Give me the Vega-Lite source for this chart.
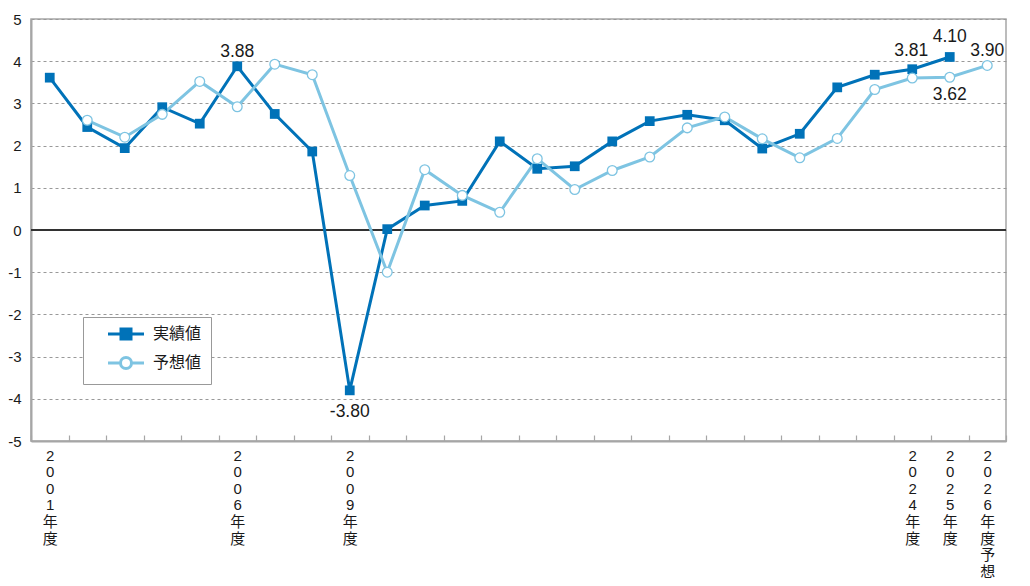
{
  "$schema": "https://vega.github.io/schema/vega-lite/v6.json",
  "autosize": "none",
  "width": 975,
  "height": 422,
  "padding": {"left": 31, "top": 19, "right": 24, "bottom": 145},
  "background": "#ffffff",
  "config": {
    "font": "Liberation Sans, Noto Sans CJK JP",
    "view": {"stroke": "#a6a6a6", "strokeWidth": 1.5},
    "axis": {"labelFont": "Liberation Sans, Noto Sans CJK JP", "labelColor": "#1a1a1a", "domainColor": "#a6a6a6", "domainWidth": 2, "tickColor": "#a6a6a6", "tickWidth": 1.2}
  },
  "data": {
    "values": [
      {"year": "2001", "series": "実績値", "value": 3.61},
      {"year": "2002", "series": "実績値", "value": 2.44},
      {"year": "2003", "series": "実績値", "value": 1.94},
      {"year": "2004", "series": "実績値", "value": 2.91},
      {"year": "2005", "series": "実績値", "value": 2.52},
      {"year": "2006", "series": "実績値", "value": 3.88, "label": "3.88"},
      {"year": "2007", "series": "実績値", "value": 2.75},
      {"year": "2008", "series": "実績値", "value": 1.86},
      {"year": "2009", "series": "実績値", "value": -3.8, "label": "-3.80"},
      {"year": "2010", "series": "実績値", "value": 0.02},
      {"year": "2011", "series": "実績値", "value": 0.58},
      {"year": "2012", "series": "実績値", "value": 0.69},
      {"year": "2013", "series": "実績値", "value": 2.1},
      {"year": "2014", "series": "実績値", "value": 1.45},
      {"year": "2015", "series": "実績値", "value": 1.51},
      {"year": "2016", "series": "実績値", "value": 2.1},
      {"year": "2017", "series": "実績値", "value": 2.58},
      {"year": "2018", "series": "実績値", "value": 2.73},
      {"year": "2019", "series": "実績値", "value": 2.6},
      {"year": "2020", "series": "実績値", "value": 1.93},
      {"year": "2021", "series": "実績値", "value": 2.28},
      {"year": "2022", "series": "実績値", "value": 3.38},
      {"year": "2023", "series": "実績値", "value": 3.68},
      {"year": "2024", "series": "実績値", "value": 3.81, "label": "3.81"},
      {"year": "2025", "series": "実績値", "value": 4.1, "label": "4.10"},
      {"year": "2002", "series": "予想値", "value": 2.6},
      {"year": "2003", "series": "予想値", "value": 2.2},
      {"year": "2004", "series": "予想値", "value": 2.74},
      {"year": "2005", "series": "予想値", "value": 3.52},
      {"year": "2006", "series": "予想値", "value": 2.92},
      {"year": "2007", "series": "予想値", "value": 3.93},
      {"year": "2008", "series": "予想値", "value": 3.68},
      {"year": "2009", "series": "予想値", "value": 1.29},
      {"year": "2010", "series": "予想値", "value": -1.0},
      {"year": "2011", "series": "予想値", "value": 1.43},
      {"year": "2012", "series": "予想値", "value": 0.82},
      {"year": "2013", "series": "予想値", "value": 0.42},
      {"year": "2014", "series": "予想値", "value": 1.69},
      {"year": "2015", "series": "予想値", "value": 0.96},
      {"year": "2016", "series": "予想値", "value": 1.41},
      {"year": "2017", "series": "予想値", "value": 1.73},
      {"year": "2018", "series": "予想値", "value": 2.42},
      {"year": "2019", "series": "予想値", "value": 2.68},
      {"year": "2020", "series": "予想値", "value": 2.16},
      {"year": "2021", "series": "予想値", "value": 1.71},
      {"year": "2022", "series": "予想値", "value": 2.17},
      {"year": "2023", "series": "予想値", "value": 3.33},
      {"year": "2024", "series": "予想値", "value": 3.6},
      {"year": "2025", "series": "予想値", "value": 3.62, "label": "3.62"},
      {"year": "2026", "series": "予想値", "value": 3.9, "label": "3.90"}
    ]
  },
  "encoding": {
    "x": {
      "field": "year", "type": "ordinal", "sort": "ascending",
      "scale": {"type": "band", "paddingInner": 0, "paddingOuter": 0},
      "axis": {
        "title": null, "grid": false, "labelAngle": 0, "labelAlign": "center", "labelBaseline": "top",
        "labelFontSize": 15, "labelLineHeight": 16.6, "tickBand": "extent", "tickSize": -6, "labelPadding": 13,
        "labelOverlap": false,
        "labelExpr": "indexof(['2001','2006','2009','2024','2025'], datum.value) >= 0 ? split(datum.value + '年度', '') : (datum.value == '2026' ? split('2026年度予想', '') : '')"
      }
    },
    "y": {
      "field": "value", "type": "quantitative",
      "scale": {"domain": [-5, 5], "nice": false},
      "axis": {
        "title": null, "values": [-5, -4, -3, -2, -1, 0, 1, 2, 3, 4, 5], "ticks": false,
        "labelFontSize": 15, "labelPadding": 10,
        "labelExpr": "datum.value < 0 ? '-' + abs(datum.value) : '' + datum.value",
        "grid": true, "gridColor": "#999999", "gridDash": [3, 3], "gridWidth": 1
      }
    }
  },
  "layer": [
    {
      "mark": {"type": "rule", "color": "#333333", "strokeWidth": 1.2},
      "encoding": {"y": {"datum": 0}, "x": {"value": 0}, "x2": {"value": 975}}
    },
    {
      "mark": {"type": "line", "strokeWidth": 3},
      "encoding": {
        "color": {
          "field": "series", "type": "nominal",
          "scale": {"domain": ["実績値", "予想値"], "range": ["#0072b8", "#7ec4e2"]},
          "legend": {
            "title": null, "orient": "none", "legendX": 52, "legendY": 298,
            "padding": 9, "rowPadding": 6, "strokeColor": "#999999", "fillColor": "#ffffff",
            "labelFontSize": 16, "labelFont": "Liberation Sans, Noto Sans CJK JP", "labelColor": "#1a1a1a",
            "symbolSize": 100, "symbolOffset": 26, "labelOffset": 19,
            "symbolType": "M-3.6,0H3.6",
            "encode": {
              "symbols": {
                "update": {
                  "shape": {"signal": "datum.value === '予想値' ? 'M-3.6,0H-1.1M1.1,0H3.6M1.1,0A1.1,1.1,0,1,1,-1.1,0A1.1,1.1,0,1,1,1.1,0Z' : 'M-3.6,0H3.6M-1,-1H1V1H-1Z'"},
                  "fill": {"signal": "datum.value === '予想値' ? '#ffffff' : '#0072b8'"},
                  "stroke": {"signal": "datum.value === '予想値' ? '#7ec4e2' : '#0072b8'"},
                  "strokeWidth": {"value": 3},
                  "opacity": {"value": 1},
                  "fillOpacity": {"value": 1},
                  "strokeOpacity": {"value": 1}
                }
              }
            }
          }
        }
      }
    },
    {
      "transform": [{"filter": "datum.series == '実績値'"}],
      "mark": {"type": "point", "shape": "square", "filled": true, "size": 95, "color": "#0072b8", "opacity": 1}
    },
    {
      "transform": [{"filter": "datum.series == '予想値'"}],
      "mark": {"type": "point", "shape": "circle", "filled": false, "size": 95, "fill": "#ffffff", "fillOpacity": 1, "stroke": "#7ec4e2", "strokeWidth": 1.3, "opacity": 1}
    },
    {
      "transform": [{"filter": "datum.label == '3.88' || datum.label == '3.90'"}],
      "mark": {"type": "text", "fontSize": 17.5, "color": "#1a1a1a", "baseline": "alphabetic", "dy": -9},
      "encoding": {"text": {"field": "label"}}
    },
    {
      "transform": [{"filter": "datum.label == '3.81'"}],
      "mark": {"type": "text", "fontSize": 17.5, "color": "#1a1a1a", "baseline": "alphabetic", "dy": -13, "dx": -1},
      "encoding": {"text": {"field": "label"}}
    },
    {
      "transform": [{"filter": "datum.label == '4.10'"}],
      "mark": {"type": "text", "fontSize": 17.5, "color": "#1a1a1a", "baseline": "alphabetic", "dy": -14.5},
      "encoding": {"text": {"field": "label"}}
    },
    {
      "transform": [{"filter": "datum.label == '3.62'"}],
      "mark": {"type": "text", "fontSize": 17.5, "color": "#1a1a1a", "baseline": "alphabetic", "dy": 23},
      "encoding": {"text": {"field": "label"}}
    },
    {
      "transform": [{"filter": "datum.label == '-3.80'"}],
      "mark": {"type": "text", "fontSize": 17.5, "color": "#1a1a1a", "baseline": "alphabetic", "dy": 27},
      "encoding": {"text": {"field": "label"}}
    }
  ]
}
